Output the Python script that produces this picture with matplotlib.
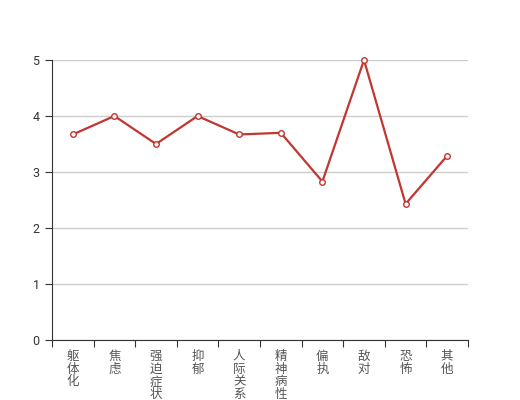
import matplotlib
matplotlib.use("Agg")
import matplotlib.pyplot as plt
import numpy as np

plt.rcParams['font.family'] = ['Noto Sans CJK SC', 'DejaVu Sans']

categories = ['躯体化', '焦虑', '强迫症状', '抑郁', '人际关系敏感', '精神病性', '偏执', '敌对', '恐怖', '其他']
values = [3.67, 4.0, 3.5, 4.0, 3.67, 3.7, 2.83, 5.0, 2.43, 3.29]
yticks = [0, 1, 2, 3, 4, 5]

fig = plt.figure(figsize=(5.2, 4.0), dpi=100)
ax = fig.add_axes([0.1, 0.15, 0.8, 0.7])

x = np.arange(len(categories))
ax.plot(x, values, color='#c23531', lw=1.6, marker='o', markersize=4,
        markerfacecolor='white', markeredgecolor='#c23531', markeredgewidth=1,
        zorder=3, clip_on=False)

ax.set_xlim(-0.5, len(categories) - 0.5)
ax.set_ylim(0, 5)
ax.set_yticks(yticks)
ax.set_yticklabels([str(v) for v in yticks], fontsize=9, color='#333333',
                   family=['Roboto', 'DejaVu Sans'])
ax.yaxis.grid(True, color='#cccccc', lw=1)
ax.set_axisbelow(True)

ax.set_xticks(np.arange(len(categories) + 1) - 0.5)
ax.set_xticklabels([])
ax.set_xticks(x, minor=True)
ax.set_xticklabels(['\n'.join(c) for c in categories], minor=True, fontsize=9,
                   color='#555555', va='top', linespacing=0.98)
ax.tick_params(axis='x', which='minor', length=0, pad=7)
ax.tick_params(axis='x', which='major', length=5, color='#333333', direction='out')
ax.tick_params(axis='y', length=5, color='#333333', pad=4)

for s in ['top', 'right']:
    ax.spines[s].set_visible(False)
ax.spines['left'].set_color('#333333')
ax.spines['bottom'].set_color('#333333')

fig.savefig('out.png', dpi=100)
